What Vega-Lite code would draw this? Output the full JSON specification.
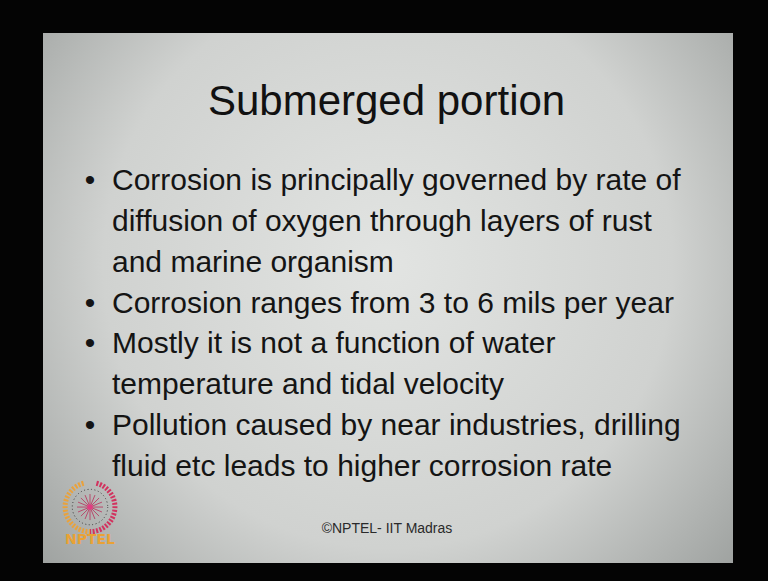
{
  "$schema": "https://vega.github.io/schema/vega-lite/v6.json",
  "width": 690,
  "height": 530,
  "autosize": {"type": "none"},
  "padding": {"left": 43, "top": 33, "right": 35, "bottom": 18},
  "background": "#040404",
  "config": {"view": {"stroke": null}, "text": {"font": "Liberation Sans"}},
  "datasets": {
    "slide": [
      {"kind": "title", "text": "Submerged portion"},
      {"kind": "body", "line": 1, "bullet": true, "text": "Corrosion is principally governed by rate of"},
      {"kind": "body", "line": 2, "bullet": false, "text": "diffusion of oxygen through layers of rust"},
      {"kind": "body", "line": 3, "bullet": false, "text": "and marine organism"},
      {"kind": "body", "line": 4, "bullet": true, "text": "Corrosion ranges from 3 to 6 mils per year"},
      {"kind": "body", "line": 5, "bullet": true, "text": "Mostly it is not a function of water"},
      {"kind": "body", "line": 6, "bullet": false, "text": "temperature and tidal velocity"},
      {"kind": "body", "line": 7, "bullet": true, "text": "Pollution caused by near industries, drilling"},
      {"kind": "body", "line": 8, "bullet": false, "text": "fluid etc leads to higher corrosion rate"},
      {"kind": "footer", "text": "©NPTEL- IIT Madras"},
      {"kind": "logo", "text": "NPTEL"}
    ]
  },
  "data": {"name": "slide"},
  "layer": [
    {
      "data": {"values": [{"part": "slide"}]},
      "mark": {
        "type": "rect",
        "fill": {
          "gradient": "radial",
          "x1": 0.5, "y1": 0.45, "r1": 0,
          "x2": 0.5, "y2": 0.45, "r2": 0.75,
          "stops": [
            {"offset": 0, "color": "#e2e4e2"},
            {"offset": 0.55, "color": "#d0d2d0"},
            {"offset": 1, "color": "#8e9290"}
          ]
        }
      },
      "encoding": {}
    },
    {
      "transform": [{"filter": "datum.kind == 'title'"}],
      "mark": {"type": "text", "fontSize": 42, "align": "center", "baseline": "alphabetic", "color": "#111111"},
      "encoding": {
        "x": {"datum": 13.48, "type": "quantitative", "scale": {"domain": [0, 1], "range": [47, 69], "zero": false, "nice": false}, "axis": null},
        "y": {"datum": -0.836, "type": "quantitative", "scale": {"domain": [1, 8], "range": [157, 443], "zero": false, "nice": false}, "axis": null},
        "text": {"field": "text"}
      }
    },
    {
      "transform": [{"filter": "datum.kind == 'body' && datum.bullet"}],
      "mark": {"type": "text", "fontSize": 30, "align": "center", "baseline": "alphabetic", "color": "#141414"},
      "encoding": {
        "x": {"datum": 0, "type": "quantitative", "axis": null},
        "y": {"field": "line", "type": "quantitative", "axis": null},
        "text": {"value": "•"}
      }
    },
    {
      "transform": [{"filter": "datum.kind == 'body'"}],
      "mark": {"type": "text", "fontSize": 30, "align": "left", "baseline": "alphabetic", "color": "#141414"},
      "encoding": {
        "x": {"datum": 1, "type": "quantitative", "axis": null},
        "y": {"field": "line", "type": "quantitative", "axis": null},
        "text": {"field": "text"}
      }
    },
    {
      "transform": [{"filter": "datum.kind == 'footer'"}],
      "mark": {"type": "text", "fontSize": 14, "align": "center", "baseline": "alphabetic", "color": "#2a2a2a"},
      "encoding": {
        "x": {"datum": 13.5, "type": "quantitative", "axis": null},
        "y": {"datum": 9.39, "type": "quantitative", "axis": null},
        "text": {"field": "text"}
      }
    },
    {
      "transform": [{"filter": "datum.kind == 'logo'"}],
      "mark": {"type": "point", "shape": "M-0.26,-0.97A1,1 0 0,0 0,1", "size": 2401, "filled": false, "stroke": "#e9a23c", "strokeWidth": 5, "strokeDash": [2, 1.5], "opacity": 1},
      "encoding": {
        "x": {"datum": 0, "type": "quantitative", "axis": null},
        "y": {"datum": 8.76, "type": "quantitative", "axis": null}
      }
    },
    {
      "transform": [{"filter": "datum.kind == 'logo'"}],
      "mark": {"type": "point", "shape": "M0.26,-0.97A1,1 0 0,1 0,1", "size": 2401, "filled": false, "stroke": "#d2335f", "strokeWidth": 5, "strokeDash": [2, 1.5], "opacity": 1},
      "encoding": {
        "x": {"datum": 0, "type": "quantitative", "axis": null},
        "y": {"datum": 8.76, "type": "quantitative", "axis": null}
      }
    },
    {
      "transform": [{"filter": "datum.kind == 'logo'"}],
      "mark": {"type": "point", "shape": "circle", "size": 1257, "filled": false, "stroke": "#3a3a3a", "strokeWidth": 1, "strokeDash": [1, 2.5], "opacity": 1},
      "encoding": {
        "x": {"datum": 0, "type": "quantitative", "axis": null},
        "y": {"datum": 8.76, "type": "quantitative", "axis": null}
      }
    },
    {
      "transform": [{"filter": "datum.kind == 'logo'"}],
      "mark": {"type": "point", "shape": "M-1,0L1,0M0,-1L0,1M-0.7,-0.7L0.7,0.7M-0.7,0.7L0.7,-0.7M-0.92,-0.38L0.92,0.38M-0.92,0.38L0.92,-0.38M-0.38,-0.92L0.38,0.92M0.38,-0.92L-0.38,0.92", "size": 676, "filled": false, "stroke": "#b84a6c", "strokeWidth": 1, "opacity": 1},
      "encoding": {
        "x": {"datum": 0, "type": "quantitative", "axis": null},
        "y": {"datum": 8.76, "type": "quantitative", "axis": null}
      }
    },
    {
      "transform": [{"filter": "datum.kind == 'logo'"}],
      "mark": {"type": "point", "shape": "circle", "size": 30, "filled": true, "color": "#e23c82", "opacity": 1},
      "encoding": {
        "x": {"datum": 0, "type": "quantitative", "axis": null},
        "y": {"datum": 8.76, "type": "quantitative", "axis": null}
      }
    },
    {
      "transform": [{"filter": "datum.kind == 'logo'"}],
      "mark": {"type": "text", "font": "DejaVu Sans", "fontWeight": "bold", "fontSize": 14, "align": "center", "baseline": "alphabetic", "color": "#e9a235"},
      "encoding": {
        "x": {"datum": 0, "type": "quantitative", "axis": null},
        "y": {"datum": 9.66, "type": "quantitative", "axis": null},
        "text": {"field": "text"}
      }
    }
  ]
}
